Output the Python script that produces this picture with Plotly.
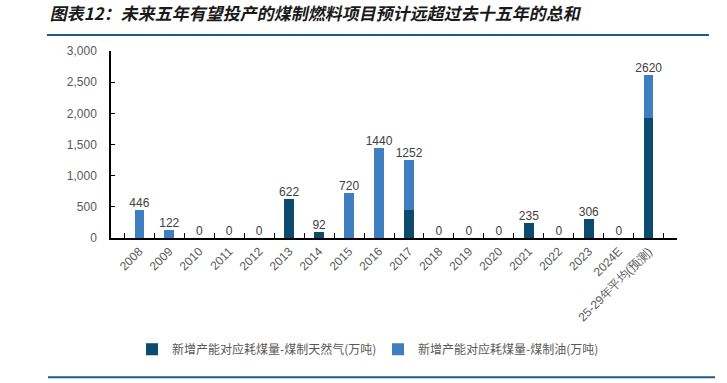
import plotly.graph_objects as go

categories = ["2008", "2009", "2010", "2011", "2012", "2013", "2014", "2015", "2016",
              "2017", "2018", "2019", "2020", "2021", "2022", "2023", "2024E",
              "25-29年平均(预测)"]
gas_values = [0, 0, 0, 0, 0, 622, 92, 0, 0, 450, 0, 0, 0, 235, 0, 306, 0, 1920]
oil_values = [446, 122, 0, 0, 0, 0, 0, 720, 1440, 802, 0, 0, 0, 0, 0, 0, 0, 700]
totals = [g + o for g, o in zip(gas_values, oil_values)]

gas_name = "新增产能对应耗煤量-煤制天然气(万吨)"
oil_name = "新增产能对应耗煤量-煤制油(万吨)"
title_text = "图表12：未来五年有望投产的煤制燃料项目预计远超过去十五年的总和"

W, H = 727, 383
L, R, T, B = 111, 677, 51, 238.5

def px_x(p):
    return (p - L) / (R - L)

def px_y(p):
    return (B - p) / (B - T)

legend_font = dict(family="Noto Sans CJK SC", size=12, color="#595959")

fig = go.Figure()
fig.add_trace(go.Bar(x=categories, y=gas_values, name=gas_name, legend="legend",
                     marker=dict(color="#0C4A6E", line=dict(width=0))))
fig.add_trace(go.Bar(x=categories, y=oil_values, name=oil_name, legend="legend2",
                     marker=dict(color="#3F7FBF", line=dict(width=0))))
fig.add_trace(go.Scatter(x=categories, y=totals, mode="text",
                         text=[str(v) for v in totals], textposition="top center",
                         textfont=dict(family="Liberation Sans, Arial", size=12, color="#404040"),
                         showlegend=False, hoverinfo="skip", cliponaxis=False))

fig.update_layout(
    width=W, height=H,
    barmode="stack", bargap=0.68,
    plot_bgcolor="white", paper_bgcolor="white",
    margin=dict(l=L, r=W - R, t=T, b=H - B, autoexpand=False),
    font=dict(family="Liberation Sans, Arial", color="#595959", size=12),
    title=dict(text="<b>" + title_text + "</b>", xref="container", yref="container",
               x=51 / W, xanchor="left", y=1 - 14 / H, yanchor="middle",
               font=dict(family="Noto Sans CJK SC", size=17, color="#1a1a1a")),
    showlegend=True,
    legend=dict(orientation="h", x=px_x(132), xanchor="left", y=px_y(350), yanchor="middle",
                font=legend_font, itemwidth=30, bgcolor="rgba(0,0,0,0)"),
    legend2=dict(orientation="h", x=px_x(378), xanchor="left", y=px_y(350), yanchor="middle",
                 font=legend_font, itemwidth=30, bgcolor="rgba(0,0,0,0)"),
    xaxis=dict(type="category", tickangle=-45, showline=True, linecolor="#000000", linewidth=1.5,
               ticks="inside", ticklen=5, tickcolor="#000000", tickson="boundaries",
               tickfont=dict(family="Liberation Sans, Arial", size=12, color="#595959"),
               showgrid=False, zeroline=False, automargin=False),
    yaxis=dict(range=[0, 3000], tickvals=[0, 500, 1000, 1500, 2000, 2500, 3000], tickformat=",",
               showline=True, linecolor="#000000", linewidth=1.5, ticks="inside", ticklen=4,
               tickcolor="#000000", showgrid=False, zeroline=False, automargin=False,
               ticklabelstandoff=10,
               tickfont=dict(family="Liberation Sans, Arial", size=12, color="#595959")),
    shapes=[
        dict(type="line", xref="paper", yref="paper", x0=px_x(47), x1=px_x(709),
             y0=px_y(35), y1=px_y(35), line=dict(color="#1F5C8A", width=2)),
        dict(type="line", xref="paper", yref="paper", x0=px_x(48), x1=px_x(715),
             y0=px_y(378), y1=px_y(378), line=dict(color="#1F5C8A", width=2)),
    ],
)

post_js = """
document.body.style.margin = '0';
document.body.style.padding = '0';
var t = document.querySelector('.gtitle');
if (t) {
  var ty = parseFloat(t.getAttribute('y')) || 0;
  var k = Math.tan(12 * Math.PI / 180);
  t.setAttribute('transform', 'translate(' + (k * ty) + ',0) skewX(-12)');
}
"""

fig.write_html("out.html", post_script=post_js, config={"displayModeBar": False})
